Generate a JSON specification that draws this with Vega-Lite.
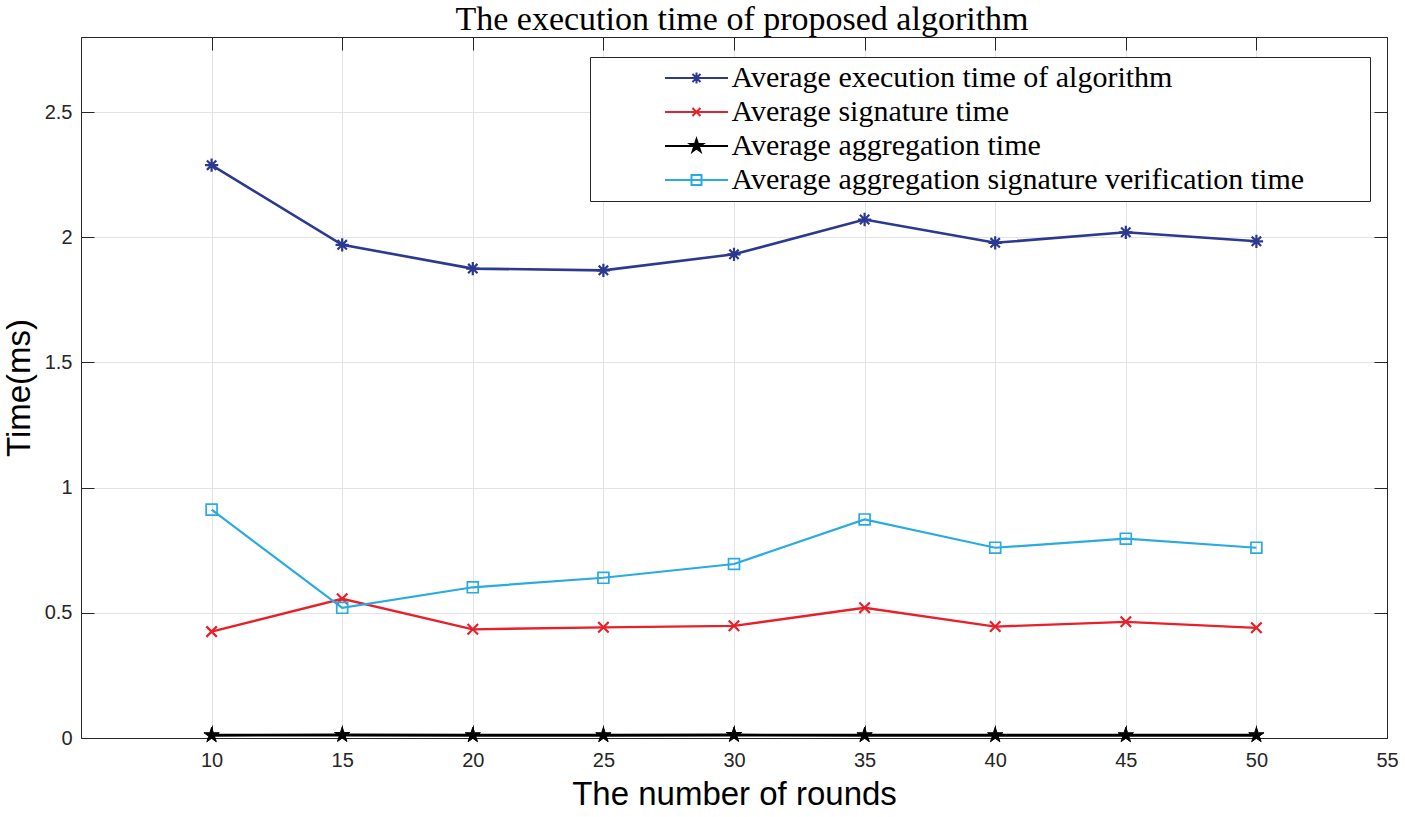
{
  "$schema": "https://vega.github.io/schema/vega-lite/v6.json",
  "width": 1306,
  "height": 701,
  "autosize": "none",
  "padding": {"left": 81, "top": 37, "right": 18, "bottom": 79},
  "background": "white",
  "title": {"text": "The execution time of proposed algorithm", "font": "Liberation Serif", "fontSize": 34, "fontWeight": "normal", "color": "#000000", "anchor": "middle", "frame": "group", "baseline": "top", "offset": 0, "dx": 8},
  "config": {"view": {"stroke": "#262626", "strokeWidth": 1}},
  "data": {"values": [
    {"rounds": 10, "series": "Average execution time of algorithm", "time": 2.288},
    {"rounds": 15, "series": "Average execution time of algorithm", "time": 1.97},
    {"rounds": 20, "series": "Average execution time of algorithm", "time": 1.875},
    {"rounds": 25, "series": "Average execution time of algorithm", "time": 1.868},
    {"rounds": 30, "series": "Average execution time of algorithm", "time": 1.932},
    {"rounds": 35, "series": "Average execution time of algorithm", "time": 2.071},
    {"rounds": 40, "series": "Average execution time of algorithm", "time": 1.978},
    {"rounds": 45, "series": "Average execution time of algorithm", "time": 2.02},
    {"rounds": 50, "series": "Average execution time of algorithm", "time": 1.984},
    {"rounds": 10, "series": "Average signature time", "time": 0.425},
    {"rounds": 15, "series": "Average signature time", "time": 0.556},
    {"rounds": 20, "series": "Average signature time", "time": 0.434},
    {"rounds": 25, "series": "Average signature time", "time": 0.442},
    {"rounds": 30, "series": "Average signature time", "time": 0.448},
    {"rounds": 35, "series": "Average signature time", "time": 0.52},
    {"rounds": 40, "series": "Average signature time", "time": 0.445},
    {"rounds": 45, "series": "Average signature time", "time": 0.464},
    {"rounds": 50, "series": "Average signature time", "time": 0.44},
    {"rounds": 10, "series": "Average aggregation time", "time": 0.011},
    {"rounds": 15, "series": "Average aggregation time", "time": 0.012},
    {"rounds": 20, "series": "Average aggregation time", "time": 0.011},
    {"rounds": 25, "series": "Average aggregation time", "time": 0.011},
    {"rounds": 30, "series": "Average aggregation time", "time": 0.012},
    {"rounds": 35, "series": "Average aggregation time", "time": 0.011},
    {"rounds": 40, "series": "Average aggregation time", "time": 0.011},
    {"rounds": 45, "series": "Average aggregation time", "time": 0.011},
    {"rounds": 50, "series": "Average aggregation time", "time": 0.011},
    {"rounds": 10, "series": "Average aggregation signature verification time", "time": 0.912},
    {"rounds": 15, "series": "Average aggregation signature verification time", "time": 0.52},
    {"rounds": 20, "series": "Average aggregation signature verification time", "time": 0.602},
    {"rounds": 25, "series": "Average aggregation signature verification time", "time": 0.64},
    {"rounds": 30, "series": "Average aggregation signature verification time", "time": 0.695},
    {"rounds": 35, "series": "Average aggregation signature verification time", "time": 0.873},
    {"rounds": 40, "series": "Average aggregation signature verification time", "time": 0.76},
    {"rounds": 45, "series": "Average aggregation signature verification time", "time": 0.796},
    {"rounds": 50, "series": "Average aggregation signature verification time", "time": 0.76}
  ]},
  "layer": [
    {
      "transform": [{"filter": "false"}],
      "mark": {"type": "point"},
      "encoding": {
        "x": {"field": "rounds", "type": "quantitative", "scale": {"domain": [5, 55], "nice": false, "zero": false},
          "axis": {"values": [10, 15, 20, 25, 30, 35, 40, 45, 50, 55], "format": "~g", "title": "The number of rounds", "grid": true, "gridColor": "#e3e3e3", "gridWidth": 1, "tickSize": -13, "tickColor": "#262626", "tickWidth": 1, "domainColor": "#262626", "labelFont": "Liberation Sans", "labelFontSize": 20, "labelColor": "#262626", "labelPadding": 25, "labelFlush": false, "labelOverlap": false, "titleFont": "Liberation Sans", "titleFontSize": 33, "titleFontWeight": "normal", "titleColor": "#000000", "titlePadding": 8}},
        "y": {"field": "time", "type": "quantitative", "scale": {"domain": [0, 2.8], "nice": false},
          "axis": {"values": [0, 0.5, 1, 1.5, 2, 2.5], "format": "~g", "title": "Time(ms)", "grid": true, "gridColor": "#e3e3e3", "gridWidth": 1, "tickSize": -13, "tickColor": "#262626", "tickWidth": 1, "domainColor": "#262626", "labelFont": "Liberation Sans", "labelFontSize": 20, "labelColor": "#262626", "labelPadding": 22, "labelFlush": false, "labelOverlap": false, "titleFont": "Liberation Sans", "titleFontSize": 33, "titleFontWeight": "normal", "titleColor": "#000000", "titlePadding": 8}}
      }
    },
    {
      "transform": [{"filter": "datum.series === 'Average execution time of algorithm'"}],
      "mark": {"type": "line", "strokeWidth": 2.6, "color": "#2b3990"},
      "encoding": {"x": {"field": "rounds", "type": "quantitative", "axis": null}, "y": {"field": "time", "type": "quantitative", "axis": null}}
    },
    {
      "transform": [{"filter": "datum.series === 'Average signature time'"}],
      "mark": {"type": "line", "strokeWidth": 2.4, "color": "#e8202a"},
      "encoding": {"x": {"field": "rounds", "type": "quantitative", "axis": null}, "y": {"field": "time", "type": "quantitative", "axis": null}}
    },
    {
      "transform": [{"filter": "datum.series === 'Average aggregation signature verification time'"}],
      "mark": {"type": "line", "strokeWidth": 2.2, "color": "#29abe2"},
      "encoding": {"x": {"field": "rounds", "type": "quantitative", "axis": null}, "y": {"field": "time", "type": "quantitative", "axis": null}}
    },
    {
      "transform": [{"filter": "datum.series === 'Average aggregation time'"}],
      "mark": {"type": "line", "strokeWidth": 2.8, "color": "#000000"},
      "encoding": {"x": {"field": "rounds", "type": "quantitative", "axis": null}, "y": {"field": "time", "type": "quantitative", "axis": null}}
    },
    {
      "transform": [{"filter": "datum.series === 'Average execution time of algorithm'"}],
      "mark": {"type": "point", "shape": "M-0.95,0H0.95M0,-0.95V0.95M-0.67,-0.67L0.67,0.67M-0.67,0.67L0.67,-0.67", "size": 196, "filled": false, "color": "#2b3990", "strokeWidth": 2.2, "opacity": 1},
      "encoding": {"x": {"field": "rounds", "type": "quantitative", "axis": null}, "y": {"field": "time", "type": "quantitative", "axis": null}}
    },
    {
      "transform": [{"filter": "datum.series === 'Average signature time'"}],
      "mark": {"type": "point", "shape": "M-0.75,-0.75L0.75,0.75M-0.75,0.75L0.75,-0.75", "size": 196, "filled": false, "color": "#e8202a", "strokeWidth": 2.2, "opacity": 1},
      "encoding": {"x": {"field": "rounds", "type": "quantitative", "axis": null}, "y": {"field": "time", "type": "quantitative", "axis": null}}
    },
    {
      "transform": [{"filter": "datum.series === 'Average aggregation signature verification time'"}],
      "mark": {"type": "point", "shape": "M-0.78,-0.78H0.78V0.78H-0.78Z", "size": 196, "filled": false, "color": "#29abe2", "strokeWidth": 1.7, "opacity": 1},
      "encoding": {"x": {"field": "rounds", "type": "quantitative", "axis": null}, "y": {"field": "time", "type": "quantitative", "axis": null}}
    },
    {
      "transform": [{"filter": "datum.series === 'Average aggregation time'"}],
      "mark": {"type": "point", "shape": "M0,-1.15L0.259,-0.355L1.094,-0.355L0.417,0.136L0.676,0.93L0,0.439L-0.676,0.93L-0.417,0.136L-1.094,-0.355L-0.259,-0.355Z", "size": 196, "filled": true, "color": "#000000", "stroke": "#000000", "strokeWidth": 1, "opacity": 1},
      "encoding": {"x": {"field": "rounds", "type": "quantitative", "axis": null}, "y": {"field": "time", "type": "quantitative", "axis": null}}
    },
    {
      "transform": [{"filter": "false"}],
      "mark": {"type": "point", "filled": false, "strokeWidth": 2, "opacity": 1},
      "encoding": {
        "x": {"field": "rounds", "type": "quantitative", "axis": null},
        "y": {"field": "time", "type": "quantitative", "axis": null},
        "color": {"field": "series", "type": "nominal", "scale": {"domain": ["Average execution time of algorithm", "Average signature time", "Average aggregation time", "Average aggregation signature verification time"], "range": ["#2b3990", "#e8202a", "#000000", "#29abe2"]},
          "legend": {"title": null, "orient": "none", "legendX": 509, "legendY": 20, "padding": 6, "strokeColor": "#262626", "fillColor": "#ffffff", "labelFont": "Liberation Serif", "labelFontSize": 30, "labelColor": "#000000", "labelLimit": 0, "symbolSize": 400, "symbolStrokeWidth": 2, "symbolOffset": 85.5, "labelOffset": 20, "rowPadding": 4, "symbolOpacity": 1}},
        "shape": {"field": "series", "type": "nominal", "scale": {"domain": ["Average execution time of algorithm", "Average signature time", "Average aggregation time", "Average aggregation signature verification time"], "range": [
          "M-3.15,0H3.15M-0.55,0H0.55M0,-0.55V0.55M-0.4,-0.4L0.4,0.4M-0.4,0.4L0.4,-0.4M66.3,0",
          "M-3.15,0H3.15M-0.4,-0.4L0.4,0.4M-0.4,0.4L0.4,-0.4M66.3,0",
          "M-3.15,0H3.15M0,-0.67L0.15,-0.207L0.637,-0.207L0.243,0.08L0.394,0.542L0,0.256L-0.394,0.542L-0.243,0.08L-0.637,-0.207L-0.15,-0.207ZM66.3,0",
          "M-3.15,0H3.15M-0.5,-0.5H0.5V0.5H-0.5ZM66.3,0"]},
          "legend": {"title": null, "orient": "none", "legendX": 509, "legendY": 20, "padding": 6, "strokeColor": "#262626", "fillColor": "#ffffff", "labelFont": "Liberation Serif", "labelFontSize": 30, "labelColor": "#000000", "labelLimit": 0, "symbolSize": 400, "symbolStrokeWidth": 2, "symbolOffset": 85.5, "labelOffset": 20, "rowPadding": 4, "symbolOpacity": 1}},
        "fill": {"field": "series", "type": "nominal", "scale": {"domain": ["Average execution time of algorithm", "Average signature time", "Average aggregation time", "Average aggregation signature verification time"], "range": ["transparent", "transparent", "#000000", "transparent"]},
          "legend": {"title": null, "orient": "none", "legendX": 509, "legendY": 20, "padding": 6, "strokeColor": "#262626", "fillColor": "#ffffff", "labelFont": "Liberation Serif", "labelFontSize": 30, "labelColor": "#000000", "labelLimit": 0, "symbolSize": 400, "symbolStrokeWidth": 2, "symbolOffset": 85.5, "labelOffset": 20, "rowPadding": 4, "symbolOpacity": 1}}
      }
    },
    {
      "transform": [{"filter": "false"}],
      "mark": {"type": "point"},
      "encoding": {
        "x": {"field": "rounds", "type": "quantitative", "axis": {"orient": "top", "values": [10, 15, 20, 25, 30, 35, 40, 45, 50, 55], "labels": false, "title": null, "grid": false, "tickSize": -13, "tickColor": "#262626", "domainColor": "#262626"}},
        "y": {"field": "time", "type": "quantitative", "axis": {"orient": "right", "values": [0, 0.5, 1, 1.5, 2, 2.5], "labels": false, "title": null, "grid": false, "tickSize": -13, "tickColor": "#262626", "domainColor": "#262626"}}
      }
    }
  ],
  "resolve": {"axis": {"x": "independent", "y": "independent"}}
}
